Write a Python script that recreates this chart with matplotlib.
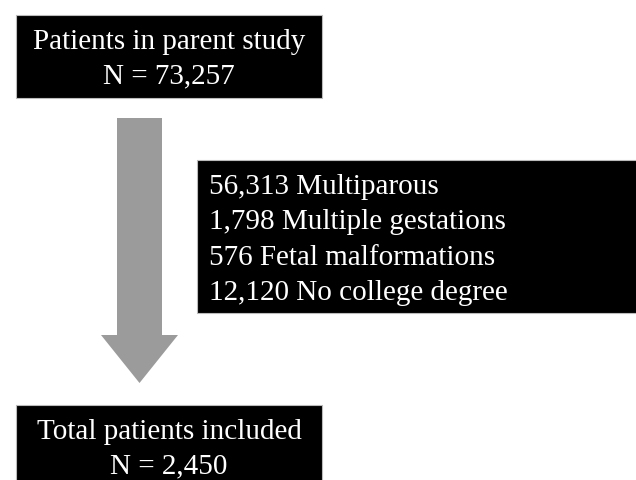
import matplotlib.pyplot as plt
from matplotlib.patches import Rectangle, Polygon

# Flowchart text
top_lines = ['Patients in parent study', 'N = 73,257']
excluded_counts = ['56,313', '1,798', '576', '12,120']
excluded_reasons = ['Multiparous', 'Multiple gestations', 'Fetal malformations', 'No college degree']
bottom_lines = ['Total patients included', 'N = 2,450']

plt.rcParams['font.family'] = ['Liberation Serif', 'DejaVu Serif']

fig = plt.figure(figsize=(6.36, 4.80), dpi=100)
ax = fig.add_axes([0, 0, 1, 1])
ax.set_xlim(0, 636)
ax.set_ylim(480, 0)
ax.axis('off')

fs = 21
line_h = 34.5

# Top box
ax.add_patch(Rectangle((16, 15), 306, 83, facecolor='black', edgecolor='#bbbbbb', lw=0.8))
for i, t in enumerate(top_lines):
    ax.text(169, 49 + i * line_h, t, color='white', fontsize=fs, ha='center', va='baseline')

# Arrow
ax.add_patch(Polygon([(117, 118), (162, 118), (162, 335), (178, 335),
                      (139.5, 383), (101, 335), (117, 335)],
                     closed=True, facecolor='#9b9b9b', edgecolor='none'))

# Exclusion box
ax.add_patch(Rectangle((197, 160), 445, 153, facecolor='black', edgecolor='#bbbbbb', lw=0.8))
for i, (n, r) in enumerate(zip(excluded_counts, excluded_reasons)):
    ax.text(209, 194 + i * 35.3, f'{n} {r}', color='white', fontsize=fs, ha='left', va='baseline')

# Bottom box
ax.add_patch(Rectangle((16, 405), 306, 90, facecolor='black', edgecolor='#bbbbbb', lw=0.8))
for i, t in enumerate(bottom_lines):
    ax.text(169, 439 + i * line_h, t, color='white', fontsize=fs, ha='center', va='baseline')

fig.savefig('out.png', dpi=100)
